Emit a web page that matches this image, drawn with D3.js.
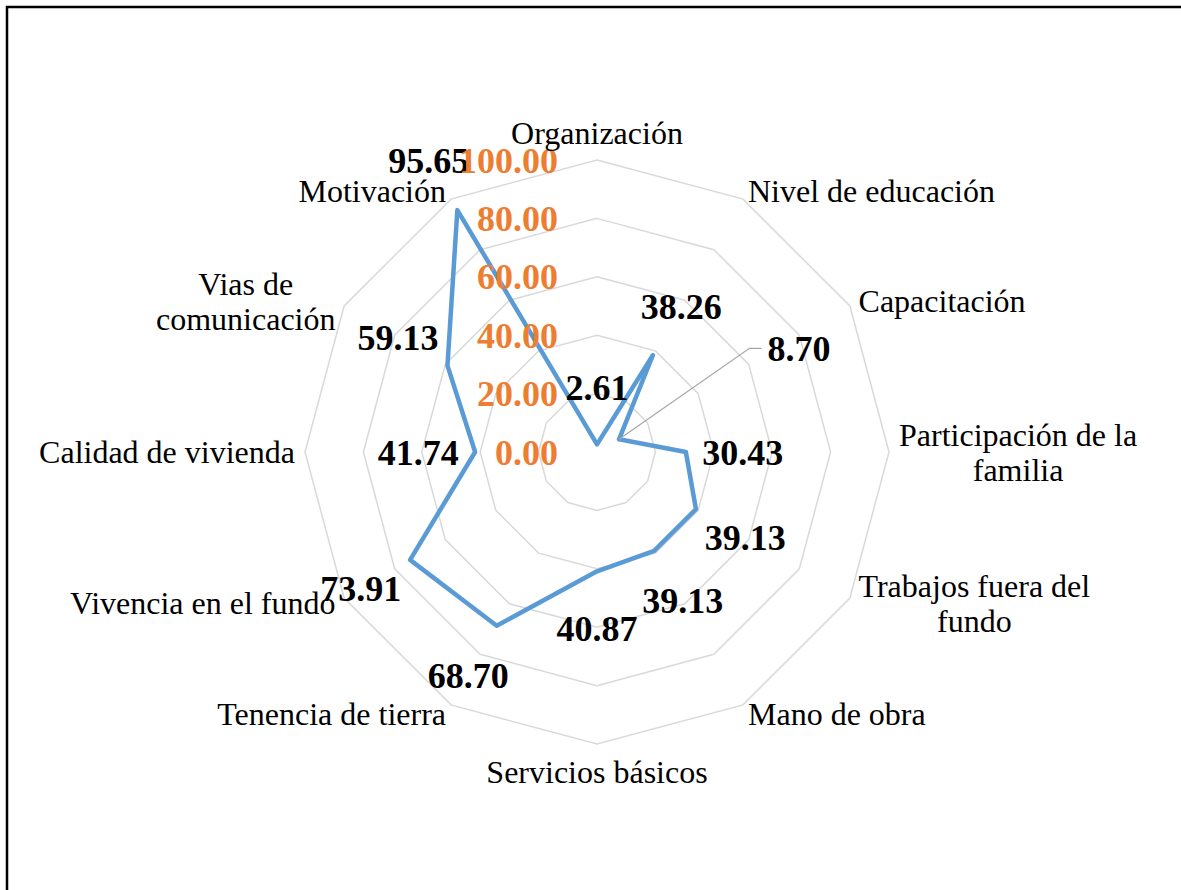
<!DOCTYPE html>
<html>
<head>
<meta charset="utf-8">
<script src="https://cdn.jsdelivr.net/npm/d3@7"></script>
<style>
  body { margin: 0; background: #fff; }
  svg { display: block; }
</style>
</head>
<body>
<div id="chart"></div>
<script>
// chart data
const categories = [
   'Organización',
   'Nivel de educación',
   'Capacitación',
   'Participación de la\nfamilia',
   'Trabajos fuera del\nfundo',
   'Mano de obra',
   'Servicios básicos',
   'Tenencia de tierra',
   'Vivencia en el fundo',
   'Calidad de vivienda',
   'Vias de\ncomunicación',
   'Motivación'
];
const values = [2.61, 38.26, 8.70, 30.43, 39.13, 39.13, 40.87, 68.70, 73.91, 41.74, 59.13, 95.65];
const ticks = [0, 20, 40, 60, 80, 100];

// frame measurements
const width = 1181, height = 890;
const cx = 597, cy = 452, radius = 292;
const labelFont = '"Liberation Serif", "Times New Roman", serif';

const n = categories.length;
const angle = i => i * 2 * Math.PI / n;

const r_scale = d3.scaleLinear()
   .domain([0, 100])
   .range([0, radius]);

const svg = d3.select('#chart')
   .append('svg')
   .attr('width', width)
   .attr('height', height);

// outer frame (right / bottom edges fall outside the picture)
svg.append('rect')
   .attr('x', 7).attr('y', 7)
   .attr('width', width + 20).attr('height', height + 20)
   .attr('fill', 'none')
   .attr('stroke', '#000')
   .attr('stroke-width', 2.5);

const chart = svg.append('g')
   .attr('transform', `translate(${cx}, ${cy})`);

// grid rings
const ring = d3.lineRadial()
   .angle((_, i) => angle(i))
   .curve(d3.curveLinearClosed);

chart.append('g')
   .attr('class', 'grid')
   .selectAll('path')
   .data(ticks.filter(t => t > 0))
   .join('path')
   .attr('d', t => ring.radius(() => r_scale(t))(categories))
   .attr('fill', 'none')
   .attr('stroke', '#d9d9d9')
   .attr('stroke-width', 1.5);

// series line
const series_line = d3.lineRadial()
   .angle((_, i) => angle(i))
   .radius(d => r_scale(d))
   .curve(d3.curveLinearClosed);

chart.append('path')
   .datum(values)
   .attr('d', series_line)
   .attr('fill', 'none')
   .attr('stroke', '#5b9bd5')
   .attr('stroke-width', 4.5)
   .attr('stroke-linejoin', 'round');

// value labels, pushed outward from each point
const point = (v, i) => [r_scale(v) * Math.sin(angle(i)), -r_scale(v) * Math.cos(angle(i))];
const label_gap = 57;
const moved_label = {index: 2, dx: 180, dy: -91}; // Capacitación label dragged out with a leader line

const value_labels = chart.append('g').attr('class', 'value-labels');

values.forEach((v, i) => {
   const [px, py] = point(v, i);
   let lx = px + label_gap * Math.sin(angle(i));
   let ly = py - label_gap * Math.cos(angle(i));
   if (i === moved_label.index) {
      lx = px + moved_label.dx;
      ly = py + moved_label.dy;
   }
   const t = value_labels.append('text')
      .attr('x', lx)
      .attr('y', ly)
      .attr('dy', '0.35em')
      .attr('text-anchor', 'middle')
      .style('font-family', labelFont)
      .style('font-weight', 'bold')
      .style('font-size', '36px')
      .attr('fill', '#000')
      .text(v.toFixed(2));
   if (i === moved_label.index) {
      const left = lx - t.node().getComputedTextLength() / 2;
      value_labels.insert('polyline', 'text')
         .attr('points', [[px, py], [left - 18, ly], [left - 6, ly]].map(p => p.join(',')).join(' '))
         .attr('fill', 'none')
         .attr('stroke', '#a6a6a6')
         .attr('stroke-width', 1.2);
   }
});

// radial axis tick labels
chart.append('g')
   .attr('class', 'tick-labels')
   .selectAll('text')
   .data(ticks)
   .join('text')
   .attr('x', -39)
   .attr('y', d => -r_scale(d))
   .attr('dy', '0.35em')
   .attr('text-anchor', 'end')
   .style('font-family', labelFont)
   .style('font-weight', 'bold')
   .style('font-size', '36px')
   .attr('fill', '#ed7d31')
   .text(d => d.toFixed(2));

// category labels around the outer ring
const cat_labels = chart.append('g').attr('class', 'category-labels');
const line_h = 35;

categories.forEach((name, i) => {
   const s = Math.sin(angle(i)), c = Math.cos(angle(i));
   const ax = (radius + 10) * s;
   const ay = -(radius + 10) * c;
   const lines = name.split('\n');
   const h = lines.length * line_h;
   const centre_y = Math.abs(s) < 0.1 ? ay - (h / 2) * c : ay;

   const g = cat_labels.append('g');
   const texts = lines.map((line, j) => g.append('text')
      .attr('y', centre_y + (j - (lines.length - 1) / 2) * line_h)
      .attr('dy', '0.35em')
      .attr('text-anchor', 'middle')
      .style('font-family', labelFont)
      .style('font-size', '32px')
      .attr('fill', '#000')
      .text(line));
   const w = d3.max(texts, t => t.node().getComputedTextLength());
   let centre_x = ax;
   if (s > 0.1) centre_x = ax + w / 2;
   if (s < -0.1) centre_x = ax - w / 2;
   texts.forEach(t => t.attr('x', centre_x));
});
</script>
</body>
</html>
